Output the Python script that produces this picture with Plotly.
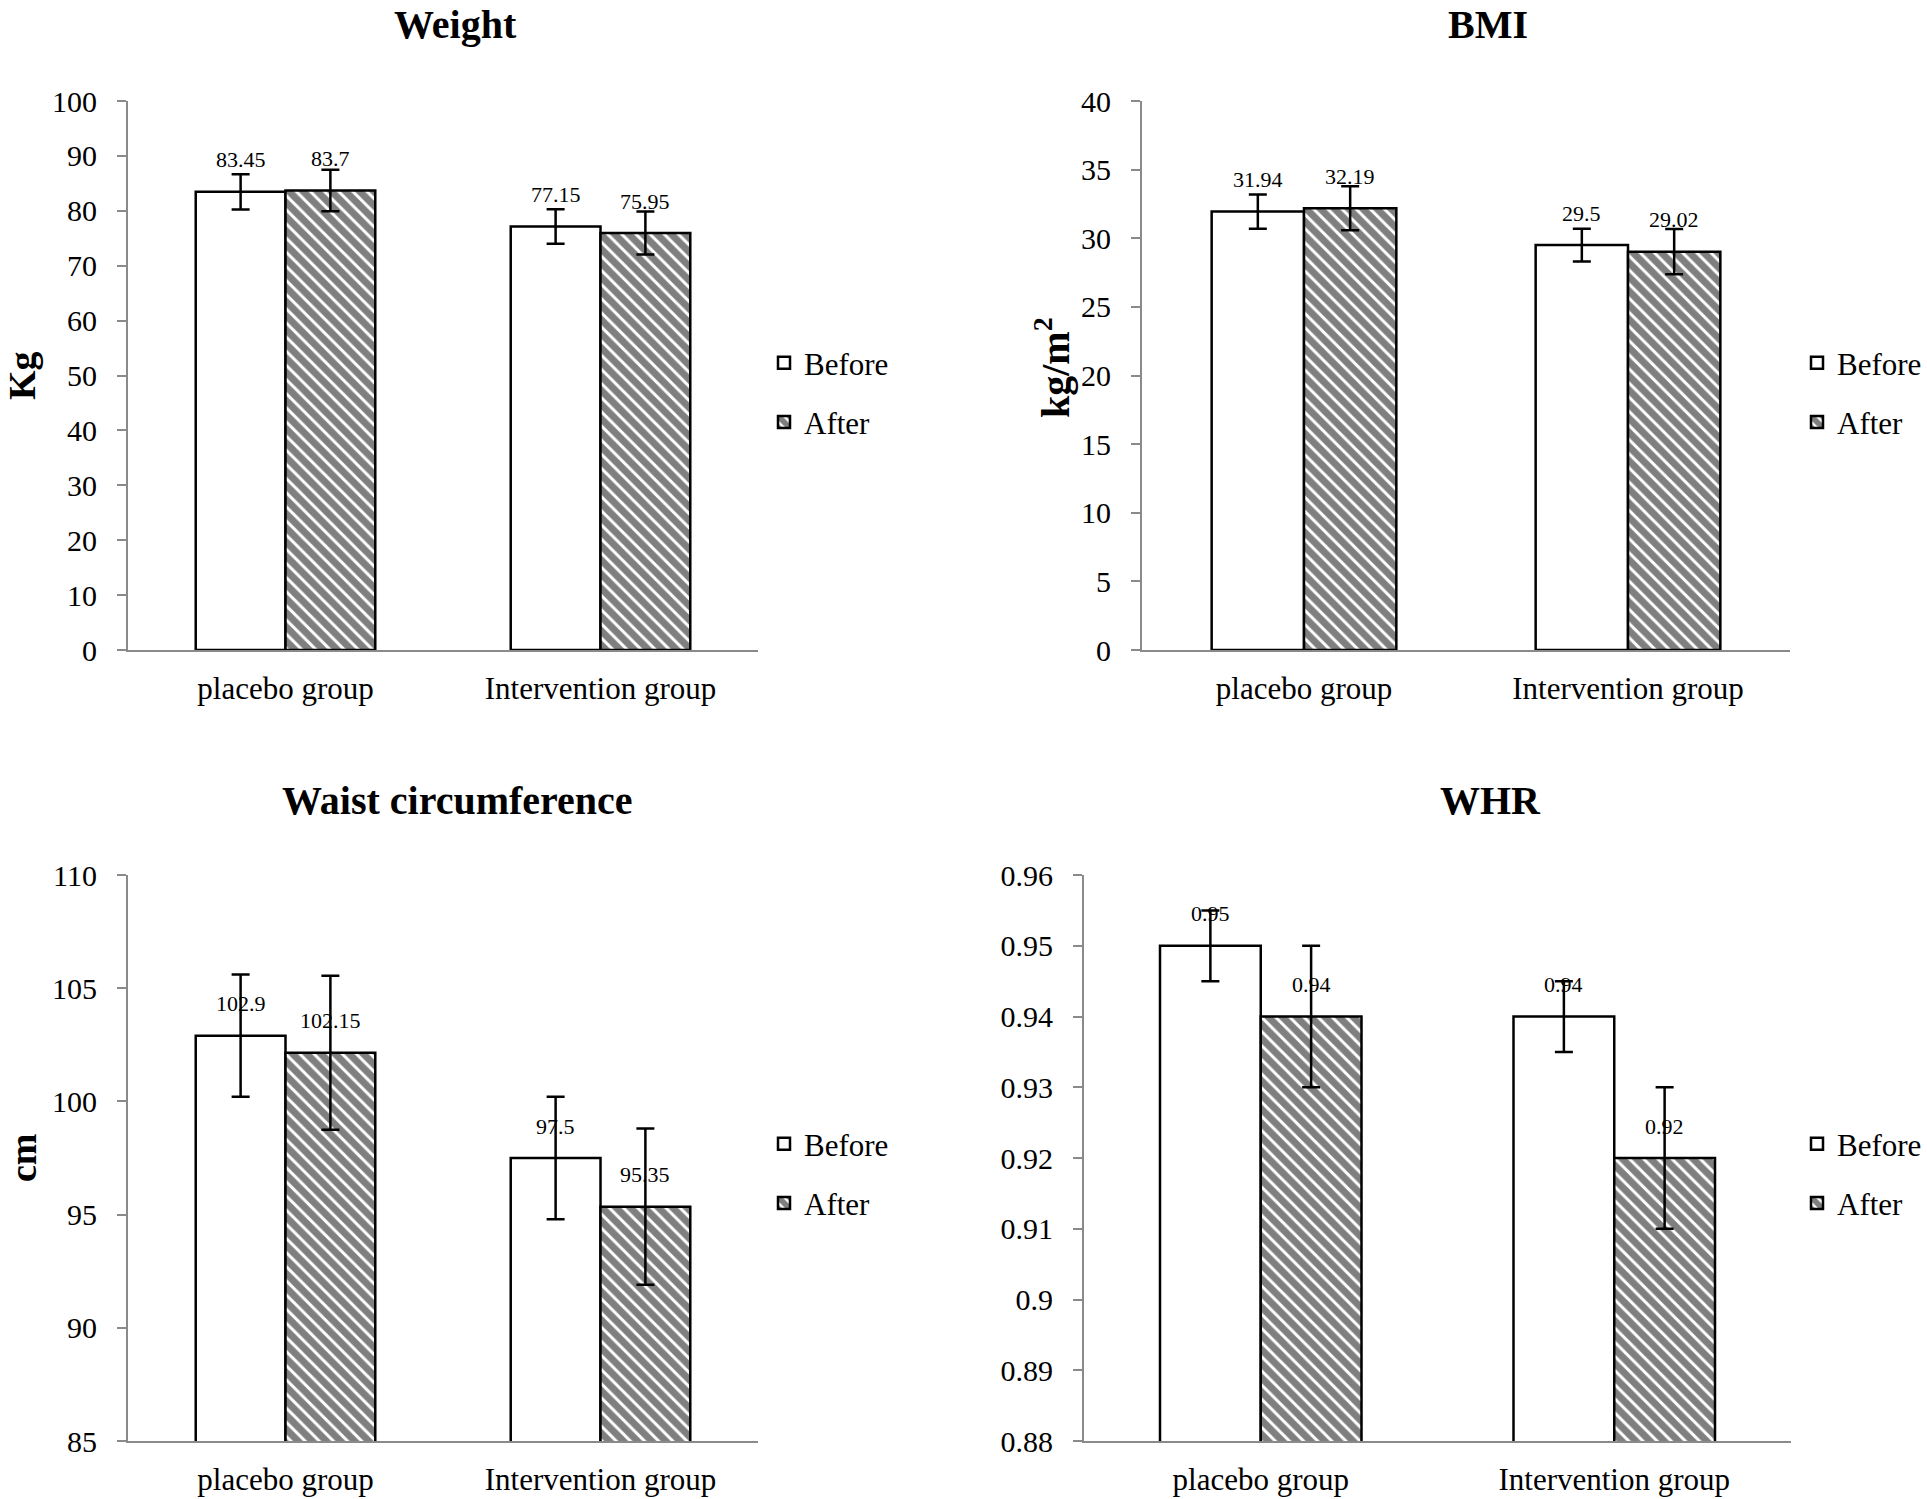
import plotly.graph_objects as go

# ---------------- data ----------------
categories = ["placebo group", "Intervention group"]
series_names = ["Before", "After"]

weight_before = [83.45, 77.15]
weight_after = [83.7, 75.95]
weight_before_err = [3.2, 3.15]
weight_after_err = [3.8, 3.9]

bmi_before = [31.94, 29.5]
bmi_after = [32.19, 29.02]
bmi_before_err = [1.25, 1.2]
bmi_after_err = [1.6, 1.65]

waist_before = [102.9, 97.5]
waist_after = [102.15, 95.35]
waist_before_err = [2.7, 2.7]
waist_after_err = [3.4, 3.45]

whr_before = [0.95, 0.94]
whr_after = [0.94, 0.92]
whr_before_err = [0.005, 0.005]
whr_after_err = [0.01, 0.01]

weight_ticks = [0, 10, 20, 30, 40, 50, 60, 70, 80, 90, 100]
bmi_ticks = [0, 5, 10, 15, 20, 25, 30, 35, 40]
waist_ticks = [85, 90, 95, 100, 105, 110]
whr_ticks = [0.88, 0.89, 0.90, 0.91, 0.92, 0.93, 0.94, 0.95, 0.96]
whr_ticktext = ["0.88", "0.89", "0.9", "0.91", "0.92", "0.93", "0.94", "0.95", "0.96"]

titles = ["Weight", "BMI", "Waist circumference", "WHR"]
ytitles = ["Kg", "kg/m<sup>2</sup>", "cm", ""]

# ---------------- layout constants ----------------
W, H = 1927, 1499
OFF = 0  # body margin removed via post_script
FONT = "Liberation Serif"
AXIS_GREY = "#8a8a8a"
BARGAP = 0.43


def fx(px):
    return (px - OFF) / W


def fy(py):
    return 1 - (py - OFF) / H


panels = [
    dict(before=weight_before, after=weight_after, be=weight_before_err, ae=weight_after_err,
         ticks=weight_ticks, ticktext=[str(t) for t in weight_ticks], rng=[0, 100],
         xpx=(128, 758), ypx=(101, 650), title_px=(455, 25), ytitle_px=(22, 376), ysize=38,
         legend_px=(764, 336)),
    dict(before=bmi_before, after=bmi_after, be=bmi_before_err, ae=bmi_after_err,
         ticks=bmi_ticks, ticktext=[str(t) for t in bmi_ticks], rng=[0, 40],
         xpx=(1142, 1790), ypx=(101, 650), title_px=(1488, 25), ytitle_px=(1053, 368), ysize=40,
         legend_px=(1797, 336)),
    dict(before=waist_before, after=waist_after, be=waist_before_err, ae=waist_after_err,
         ticks=waist_ticks, ticktext=[str(t) for t in waist_ticks], rng=[85, 110],
         xpx=(128, 758), ypx=(875, 1441), title_px=(457, 800), ytitle_px=(23, 1158), ysize=38,
         legend_px=(764, 1117)),
    dict(before=whr_before, after=whr_after, be=whr_before_err, ae=whr_after_err,
         ticks=whr_ticks, ticktext=whr_ticktext, rng=[0.88, 0.96],
         xpx=(1084, 1791), ypx=(875, 1441), title_px=(1490, 800), ytitle_px=(1000, 1158), ysize=38,
         legend_px=(1797, 1117)),
]

fig = go.Figure()
annotations = []
layout_axes = {}

for i, p in enumerate(panels):
    n = i + 1
    xa = "x" if n == 1 else f"x{n}"
    ya = "y" if n == 1 else f"y{n}"
    leg = "legend" if n == 1 else f"legend{n}"

    fig.add_trace(go.Bar(
        x=categories, y=p["before"], name=series_names[0],
        xaxis=xa, yaxis=ya, legend=leg, legendgroup=f"b{n}",
        marker=dict(color="white", line=dict(color="black", width=2.5)),
        error_y=dict(type="data", array=p["be"], visible=True, color="black",
                     thickness=2.5, width=9),
    ))
    fig.add_trace(go.Bar(
        x=categories, y=p["after"], name=series_names[1],
        xaxis=xa, yaxis=ya, legend=leg, legendgroup=f"a{n}",
        marker=dict(color="white", line=dict(color="black", width=2.5),
                    pattern=dict(shape="\\", fgcolor="black", bgcolor="white",
                                 size=10, solidity=0.7)),
        error_y=dict(type="data", array=p["ae"], visible=True, color="black",
                     thickness=2.5, width=9),
    ))

    xkey = "xaxis" if n == 1 else f"xaxis{n}"
    ykey = "yaxis" if n == 1 else f"yaxis{n}"
    layout_axes[xkey] = dict(
        domain=[fx(p["xpx"][0]), fx(p["xpx"][1])], anchor=ya, automargin=False,
        type="category", showline=True, linecolor=AXIS_GREY, linewidth=2,
        ticks="", showgrid=False, zeroline=False, ticklabelstandoff=10,
        tickfont=dict(family=FONT, size=31, color="black"),
    )
    layout_axes[ykey] = dict(
        domain=[fy(p["ypx"][1]), fy(p["ypx"][0])], anchor=xa, automargin=False,
        range=p["rng"], tickmode="array", tickvals=p["ticks"], ticktext=p["ticktext"],
        showline=True, linecolor=AXIS_GREY, linewidth=2,
        ticks="outside", ticklen=9, tickwidth=2, tickcolor=AXIS_GREY,
        showgrid=False, zeroline=False, ticklabelstandoff=14,
        tickfont=dict(family=FONT, size=30, color="black"),
    )

    layout_axes[leg] = dict(
        x=fx(p["legend_px"][0]), y=fy(p["legend_px"][1]), xanchor="left", yanchor="top",
        font=dict(family=FONT, size=31, color="black"), bgcolor="rgba(0,0,0,0)",
        tracegroupgap=16, traceorder="grouped",
    )

    # panel title
    annotations.append(dict(
        text=f"<b>{titles[i]}</b>", x=fx(p["title_px"][0]), y=fy(p["title_px"][1]),
        xref="paper", yref="paper", showarrow=False, xanchor="center", yanchor="middle",
        font=dict(family=FONT, size=40, color="black"),
    ))
    # y-axis title
    if ytitles[i]:
        annotations.append(dict(
            text=f"<b>{ytitles[i]}</b>", x=fx(p["ytitle_px"][0]), y=fy(p["ytitle_px"][1]),
            xref="paper", yref="paper", showarrow=False, xanchor="center", yanchor="middle",
            textangle=-90, font=dict(family=FONT, size=p["ysize"], color="black"),
        ))
    # data labels
    off = (1 - BARGAP) / 4
    for ci in range(len(categories)):
        for vals, sgn in ((p["before"], -1), (p["after"], 1)):
            annotations.append(dict(
                text=str(vals[ci]), x=ci + sgn * off, y=vals[ci], xref=xa, yref=ya,
                showarrow=False, xanchor="center", yanchor="middle", yshift=32,
                font=dict(family=FONT, size=22, color="black"),
            ))

fig.update_layout(
    width=W, height=H, margin=dict(l=0, r=0, t=0, b=0, pad=0, autoexpand=False),
    font=dict(family=FONT, color="black"),
    paper_bgcolor="white", plot_bgcolor="white",
    barmode="group", bargap=BARGAP, bargroupgap=0,
    annotations=annotations, showlegend=True,
    **layout_axes,
)

fig.write_html("out.html", config={"displayModeBar": False},
               post_script="document.body.style.margin='0px';")
